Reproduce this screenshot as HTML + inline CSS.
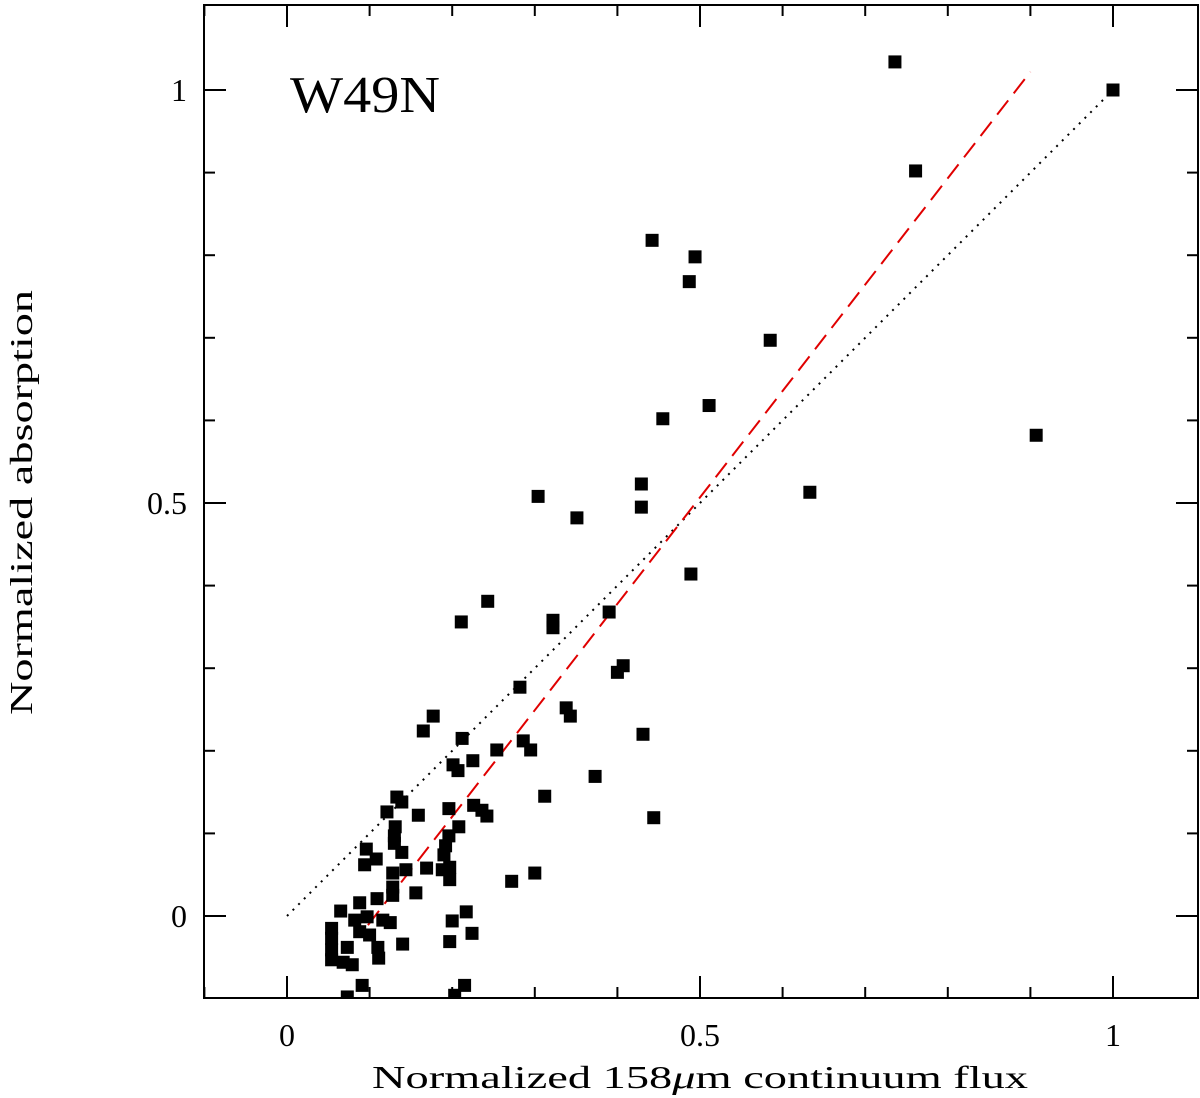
<!DOCTYPE html>
<html><head><meta charset="utf-8"><style>
html,body{margin:0;padding:0;background:#fff;}
svg{display:block;}
text{font-family:"Liberation Serif",serif;fill:#000;}
</style></head><body>
<svg id="chart" width="1200" height="1098">
<defs><clipPath id="plotclip"><rect x="204" y="5" width="994" height="993"/></clipPath></defs>
<g id="marks" clip-path="url(#plotclip)"></g>
<rect x="204" y="5" width="994" height="993" fill="none" stroke="#000" stroke-width="2"/>
<g id="ticks"></g>
<text x="290" y="112" font-size="52" textLength="150" lengthAdjust="spacingAndGlyphs">W49N</text>
<text x="372" y="1088" font-size="32" textLength="656" lengthAdjust="spacingAndGlyphs">Normalized 158<tspan font-style="italic">μ</tspan>m continuum flux</text>
<text transform="translate(32,715) rotate(-90)" font-size="32" textLength="425" lengthAdjust="spacingAndGlyphs">Normalized absorption</text>
</svg>
<script>
const xVals=[.736,1.0,.761,.442,.494,.487,.585,.511,.455,.907,.304,.429,.429,.351,.633,.489,.243,.322,.322,.390,.407,.400,.211,.282,.338,.343,.177,.165,.212,.431,.254,.286,.295,.201,.207,.225,.373,.312,.444,.300,.272,.133,.139,.121,.159,.196,.226,.236,.242,.208,.131,.130,.130,.139,.096,.108,.094,.196,.192,.190,.197,.188,.197,.169,.144,.128,.128,.128,.156,.065,.088,.109,.082,.097,.116,.125,.054,.054,.054,.054,.073,.068,.079,.110,.111,.088,.100,.140,.200,.217,.224,.197,.091,.073,.215,.203];
const yVals=[1.034,1.0,.902,.818,.798,.768,.697,.618,.602,.582,.508,.523,.495,.482,.513,.414,.381,.358,.349,.368,.303,.295,.356,.277,.252,.242,.242,.224,.215,.220,.201,.212,.201,.183,.176,.188,.169,.145,.119,.052,.042,.144,.138,.126,.122,.130,.134,.128,.121,.108,.108,.097,.088,.077,.081,.069,.062,.097,.085,.074,.059,.056,.044,.058,.056,.052,.035,.025,.028,.006,.016,.021,-.005,-.001,-.005,-.008,-.015,-.027,-.041,-.053,-.038,-.056,-.059,-.038,-.051,-.019,-.023,-.034,-.006,.005,-.021,-.031,-.084,-.098,-.084,-.096];
const fitLine=[[0.098,-0.011],[0.9,1.022]];
const identityLine=[[0,0],[1,1]];
const xTickLabels=["0","0.5","1"];
const xTickValues=[0,0.5,1];
const yTickLabels=["0","0.5","1"];
const yTickValues=[0,0.5,1];

const NS="http://www.w3.org/2000/svg";
const X=v=>287+v*826, Y=v=>916-v*826;
const marks=document.getElementById('marks'), ticks=document.getElementById('ticks');
function mk(tag,attrs,parent){const e=document.createElementNS(NS,tag);for(const k in attrs)e.setAttribute(k,attrs[k]);parent.appendChild(e);return e;}

let l1=mk('line',{x1:X(identityLine[0][0]),y1:Y(identityLine[0][1]),x2:X(identityLine[1][0]),y2:Y(identityLine[1][1]),stroke:'#000','stroke-width':2,'stroke-dasharray':'2 6'},marks);


let l2=mk('line',{x1:X(fitLine[0][0]),y1:Y(fitLine[0][1]),x2:X(fitLine[1][0]),y2:Y(fitLine[1][1]),stroke:'#e00000','stroke-width':2,'stroke-dasharray':'18 9'},marks);


for(let i=0;i<xVals.length;i++){
  const r=mk('rect',{x:X(xVals[i])-6.5,y:Y(yVals[i])-6.5,width:13,height:13,fill:'#000'},marks);
  
  
}
for(let k=-1;k<=10;k++){
  const v=k/10, maj=(k%5===0), L=maj?22:11;
  const x=X(v);
  if(x>204&&x<1198){
    mk('line',{x1:x,y1:998,x2:x,y2:998-L,stroke:'#000','stroke-width':2},ticks);
    mk('line',{x1:x,y1:5,x2:x,y2:5+L,stroke:'#000','stroke-width':2},ticks);
  }
  const y=Y(v);
  if(y>5&&y<998){
    mk('line',{x1:204,y1:y,x2:204+L,y2:y,stroke:'#000','stroke-width':2},ticks);
    mk('line',{x1:1198,y1:y,x2:1198-L,y2:y,stroke:'#000','stroke-width':2},ticks);
  }
}
for(let i=0;i<xTickValues.length;i++){
  const t=mk('text',{x:X(xTickValues[i]),y:1046,'font-size':32,'text-anchor':'middle'},ticks);
  t.textContent=xTickLabels[i];
  
  
}
for(let i=0;i<yTickValues.length;i++){
  const t=mk('text',{x:187,y:Y(yTickValues[i])+11,'font-size':32,'text-anchor':'end'},ticks);
  t.textContent=yTickLabels[i];
  
  
}
</script>
</body></html>
